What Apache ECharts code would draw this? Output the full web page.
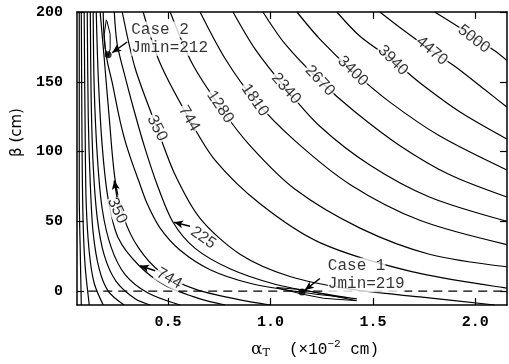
<!DOCTYPE html>
<html>
<head>
<meta charset="utf-8">
<script src="https://cdn.jsdelivr.net/npm/echarts@6/dist/echarts.min.js"></script>
<style>
  html, body { margin: 0; padding: 0; background: #fff; }
  #chart { width: 509px; height: 364px; }
</style>
</head>
<body>
<div id="chart"></div>
<script>
// contour lines: [alphaT (x10^-2 cm), beta (cm)]
const c5000 = [[1.802,200],[1.9,191],[1.993,181.9],[2.095,172.2],[2.154,165.3]];
const c4470 = [[1.534,200],[1.632,188.9],[1.788,172.2],[1.9,161.1],[2.046,144.4],[2.154,131.9]];
const c3940 = [[1.324,200],[1.437,182.6],[1.598,165.3],[1.729,149.3],[1.924,128.5],[2.154,109]];
const c3400 = [[1.129,200],[1.241,180.6],[1.402,157.6],[1.583,135.4],[1.827,111.1],[2.154,86.8]];
const c2670 = [[0.963,200],[1.071,177.1],[1.241,150.7],[1.412,128.5],[1.632,104.2],[1.876,83.3],[2.154,67.4]];
const c2340 = [[0.817,200],[0.924,173.6],[1.076,145.1],[1.241,118.1],[1.485,90.3],[1.776,67.4],[2.154,50]];
const c1810 = [[0.656,200],[0.778,166.7],[0.924,136.8],[1.12,107.6],[1.388,76.4],[1.729,50.7],[2.154,33.3]];
const c1280 = [[0.51,200],[0.617,163.2],[0.754,131.9],[0.9,104.2],[1.12,72.9],[1.437,45.1],[1.776,26.4],[2.154,17.4]];
const c744r = [[0.378,200],[0.461,163.2],[0.602,123.6],[0.729,93.8],[0.949,62.5],[1.241,34.7],[1.69,13.9],[2.154,2.1]];
const c350r = [[0.276,200],[0.339,159.7],[0.446,116.7],[0.534,83.3],[0.656,52.1],[0.851,26.4],[1.095,10.4],[1.388,1.4],[1.729,-4.2],[2.095,-10]];
// valley contour (225), open at the top edge
const c225 = [[0.183,200],[0.188,180.6],[0.202,165.3],[0.227,149.3],[0.246,135.4],[0.266,121.5],[0.29,107.6],
  [0.32,93.8],[0.354,79.9],[0.398,62.5],[0.461,45.1],[0.559,29.2],[0.705,15.3],[0.9,5.6],[1.144,-0.7],[1.422,-5.6],
  [1.241,-1.4],[1.022,4.9],[0.802,16],[0.632,30.6],[0.524,49.3],[0.446,76.4],[0.383,104.2],[0.329,131.9],
  [0.285,156.3],[0.251,177.1],[0.237,200]];
// thin closed loops around the two minima
const cMin2 = [[0.198,194.4],[0.188,184],[0.193,173.6],[0.207,168.1],[0.217,173.6],[0.217,184],[0.202,193.1],[0.198,194.4]];
const cMin1 = [[1.03,2.5],[1.154,-2.2],[1.26,-5.2],[1.42,-6.9],[1.26,-2.2],[1.154,1],[1.03,2.5]];
// left-hand family around the origin
const c350l = [[0.168,200],[0.188,166.7],[0.212,125],[0.241,79.9],[0.285,52.1],[0.354,31.3],[0.461,13.9],[0.632,1.4],[0.851,-6.3],[0.998,-10]];
const c744l = [[0.149,200],[0.159,152.8],[0.178,104.2],[0.207,66],[0.256,38.2],[0.359,18.1],[0.485,4.2],[0.656,-5.6],[0.778,-10]];
const cL3 = [[0.134,200],[0.139,145.8],[0.154,97.2],[0.178,59],[0.222,31.3],[0.29,11.8],[0.402,-1.4],[0.559,-10]];
const cL4 = [[0.12,200],[0.124,138.9],[0.134,90.3],[0.154,52.1],[0.188,25.7],[0.246,6.9],[0.339,-5.6],[0.412,-10]];
const cL5 = [[0.105,200],[0.11,125],[0.12,76.4],[0.134,41.7],[0.163,16],[0.207,0],[0.285,-10]];
const cL6 = [[0.09,200],[0.095,111.1],[0.1,62.5],[0.115,27.8],[0.139,5.6],[0.183,-10]];
const cL7 = [[0.076,200],[0.08,97.2],[0.085,48.6],[0.095,17.4],[0.115,-10]];
const cL8 = [[0.066,200],[0.066,69.4],[0.071,27.8],[0.076,-10]];

const smoothContours = [c5000, c4470, c3940, c3400, c2670, c2340, c1810, c1280, c744r, c350r,
  c225, c350l, c744l, cL3, cL4, cL5, cL6, cL7, cL8];
const loops = [cMin2, cMin1];

const baseline = [[0.11,0],[2.155,0]];
const minima = [[0.207,169.4],[1.154,-0.7]];

// contour value labels: [text, alpha, beta] and their slope in degrees
const contourLabels = [
  ['5000',1.993,180.6],['4470',1.788,172.2],['3940',1.598,165.3],['3400',1.402,157.6],
  ['2670',1.241,150.7],['2340',1.076,145.1],['1810',0.924,136.8],['1280',0.754,131.9],
  ['744',0.602,123.6],['350',0.446,116.7],['350',0.251,57.6],['225',0.671,38.2],['744',0.505,9]
];
const labelAngles = [-38,-40,-45,-45,-47,-48,-55,-56,-60,-63,-65,-35,-30];

const notes = [['Case 2',0.32,187.5],['Jmin=212',0.32,174.3],['Case 1',1.28,18.1],['Jmin=219',1.28,4.9]];

// arrows: from -> to
const arrows = [
  [[0.3,178.5],[0.227,170.8]],
  [[1.241,9],[1.168,0.7]],
  [[0.251,67.4],[0.237,79.2]],
  [[0.607,46.5],[0.529,49.3]],
  [[0.437,14.6],[0.363,18.1]]
];

const xTicks = [0.5, 1.0, 1.5, 2.0];
const yTicks = [0, 50, 100, 150, 200];

const chart = echarts.init(document.getElementById('chart'));

const black = '#000';
const tickFont = { fontFamily: 'Liberation Mono', fontWeight: 'bold', fontSize: 15, color: black };

const series = smoothContours.map(pts => ({
  type: 'line',
  data: pts,
  showSymbol: false,
  smooth: 0.3,
  silent: true,
  lineStyle: { color: black, width: 1.2 },
  z: 2
}));

loops.forEach(pts => series.push({
  type: 'line',
  data: pts,
  showSymbol: false,
  silent: true,
  lineStyle: { color: black, width: 1 },
  z: 2
}));

series.push({
  type: 'line',
  data: baseline,
  showSymbol: false,
  silent: true,
  lineStyle: { color: black, width: 1.2, type: [9, 6] },
  z: 2
});

series.push({
  type: 'scatter',
  data: contourLabels.map((l, i) => ({
    value: [l[1], l[2]],
    name: l[0],
    label: { rotate: labelAngles[i] }
  })),
  symbolSize: 0,
  silent: true,
  label: {
    show: true,
    position: 'inside',
    formatter: p => p.name,
    fontFamily: 'Liberation Sans',
    fontSize: 16,
    color: black,
    backgroundColor: '#fff',
    padding: [0, 1]
  },
  markLine: {
    silent: true,
    symbol: ['none', 'arrow'],
    symbolSize: [6, 9],
    label: { show: false },
    lineStyle: { color: black, width: 1.5, type: 'solid' },
    data: arrows.map(a => [{ coord: a[0] }, { coord: a[1] }])
  },
  z: 4
});

series.push({
  type: 'scatter',
  data: notes.map(n => ({ value: [n[1], n[2]], name: n[0] })),
  symbolSize: 0,
  silent: true,
  label: {
    show: true,
    position: 'right',
    distance: 0,
    formatter: p => p.name,
    fontFamily: 'Liberation Mono',
    fontSize: 16,
    color: black,
    backgroundColor: '#fff'
  },
  z: 5
});

series.push({
  type: 'scatter',
  data: minima,
  symbolSize: 7,
  silent: true,
  itemStyle: { color: black },
  z: 6
});

const axisLine = { show: true, onZero: false, lineStyle: { color: black, width: 1.5 } };

chart.setOption({
  animation: false,
  backgroundColor: '#fff',
  grid: { left: 77, right: 2, top: 12, bottom: 50 },
  xAxis: [{
    type: 'value', min: 0.055, max: 2.155, position: 'bottom',
    axisLine,
    axisTick: { inside: true, length: 7, customValues: xTicks, lineStyle: { color: black, width: 1.2 } },
    axisLabel: { customValues: xTicks, formatter: v => v.toFixed(1), margin: 10, ...tickFont },
    splitLine: { show: false },
    name: '{a|α}{s|T}{b|  (×10}{p|−2}{b| cm)}',
    nameLocation: 'middle',
    nameGap: 34,
    nameTextStyle: {
      padding: [0, 0, 0, 46],
      rich: {
        a: { fontFamily: 'DejaVu Serif', fontSize: 17, color: black },
        s: { fontFamily: 'DejaVu Serif', fontSize: 11, color: black, padding: [8, 0, 0, 0] },
        b: { fontFamily: 'Liberation Mono', fontSize: 16, color: black },
        p: { fontFamily: 'Liberation Mono', fontSize: 11, color: black, padding: [0, 0, 10, 0] }
      }
    }
  }, {
    type: 'value', min: 0.055, max: 2.155, position: 'top',
    axisLine,
    axisTick: { inside: true, length: 7, customValues: xTicks, lineStyle: { color: black, width: 1.2 } },
    axisLabel: { show: false },
    splitLine: { show: false }
  }],
  yAxis: [{
    type: 'value', min: -10, max: 200, position: 'left',
    axisLine,
    axisTick: { inside: true, length: 7, customValues: yTicks, lineStyle: { color: black, width: 1.2 } },
    axisLabel: { customValues: yTicks, margin: 14, ...tickFont },
    splitLine: { show: false },
    name: 'β (cm)',
    nameLocation: 'middle',
    nameGap: 50,
    nameTextStyle: { fontFamily: 'DejaVu Sans', fontSize: 15, color: black, padding: [0, 0, 0, 52] }
  }, {
    type: 'value', min: -10, max: 200, position: 'right',
    axisLine,
    axisTick: { inside: true, length: 7, customValues: yTicks, lineStyle: { color: black, width: 1.2 } },
    axisLabel: { show: false },
    splitLine: { show: false }
  }],
  series
});
</script>
</body>
</html>
